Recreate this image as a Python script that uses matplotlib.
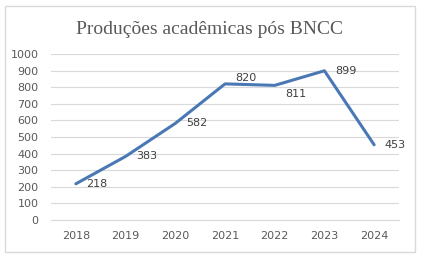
import matplotlib.pyplot as plt
from matplotlib.patches import Rectangle

anos = ['2018', '2019', '2020', '2021', '2022', '2023', '2024']
producoes = [218, 383, 582, 820, 811, 899, 453]
yticks = [0, 100, 200, 300, 400, 500, 600, 700, 800, 900, 1000]
# label nudges (points) so 820/811 don't collide
label_dy = [0, 0, 0, 4, -6, 0, 0]

W, H = 421, 259
fig = plt.figure(figsize=(W / 100, H / 100), dpi=100)
fig.patch.set_facecolor('white')

# light frame around the chart, Excel style
fig.patches.append(Rectangle((5 / W, 7 / H), 410 / W, 246 / H, transform=fig.transFigure,
                             fill=False, edgecolor='#d9d9d9', linewidth=1))

ax = fig.add_axes([51 / W, (H - 220) / H, 348 / W, 166 / H])
x = list(range(len(anos)))
ax.plot(x, producoes, color='#4a78b5', linewidth=2.2, solid_capstyle='round', zorder=3)

for i, v in enumerate(producoes):
    ax.annotate(str(v), (x[i], v), xytext=(7.5, label_dy[i]), textcoords='offset points',
                ha='left', va='center', fontsize=8, color='#404040', zorder=4)

ax.set_xlim(-0.5, len(anos) - 0.5)
ax.set_ylim(0, 1000)
ax.set_yticks(yticks)
ax.set_xticks(x)
ax.set_xticklabels(anos)
ax.grid(axis='y', color='#d9d9d9', linewidth=0.8)
ax.set_axisbelow(True)
for s in ['top', 'right', 'left']:
    ax.spines[s].set_visible(False)
ax.spines['bottom'].set_color('#d9d9d9')
ax.spines['bottom'].set_linewidth(0.8)
ax.tick_params(axis='both', length=0, labelsize=8, colors='#595959')
ax.tick_params(axis='y', pad=9)
ax.tick_params(axis='x', pad=8)

fig.text(210 / W, 1 - 30 / H, 'Produções acadêmicas pós BNCC', ha='center', va='center',
         fontsize=14, color='#595959', family='Liberation Serif')

fig.savefig('out.png', dpi=100)
